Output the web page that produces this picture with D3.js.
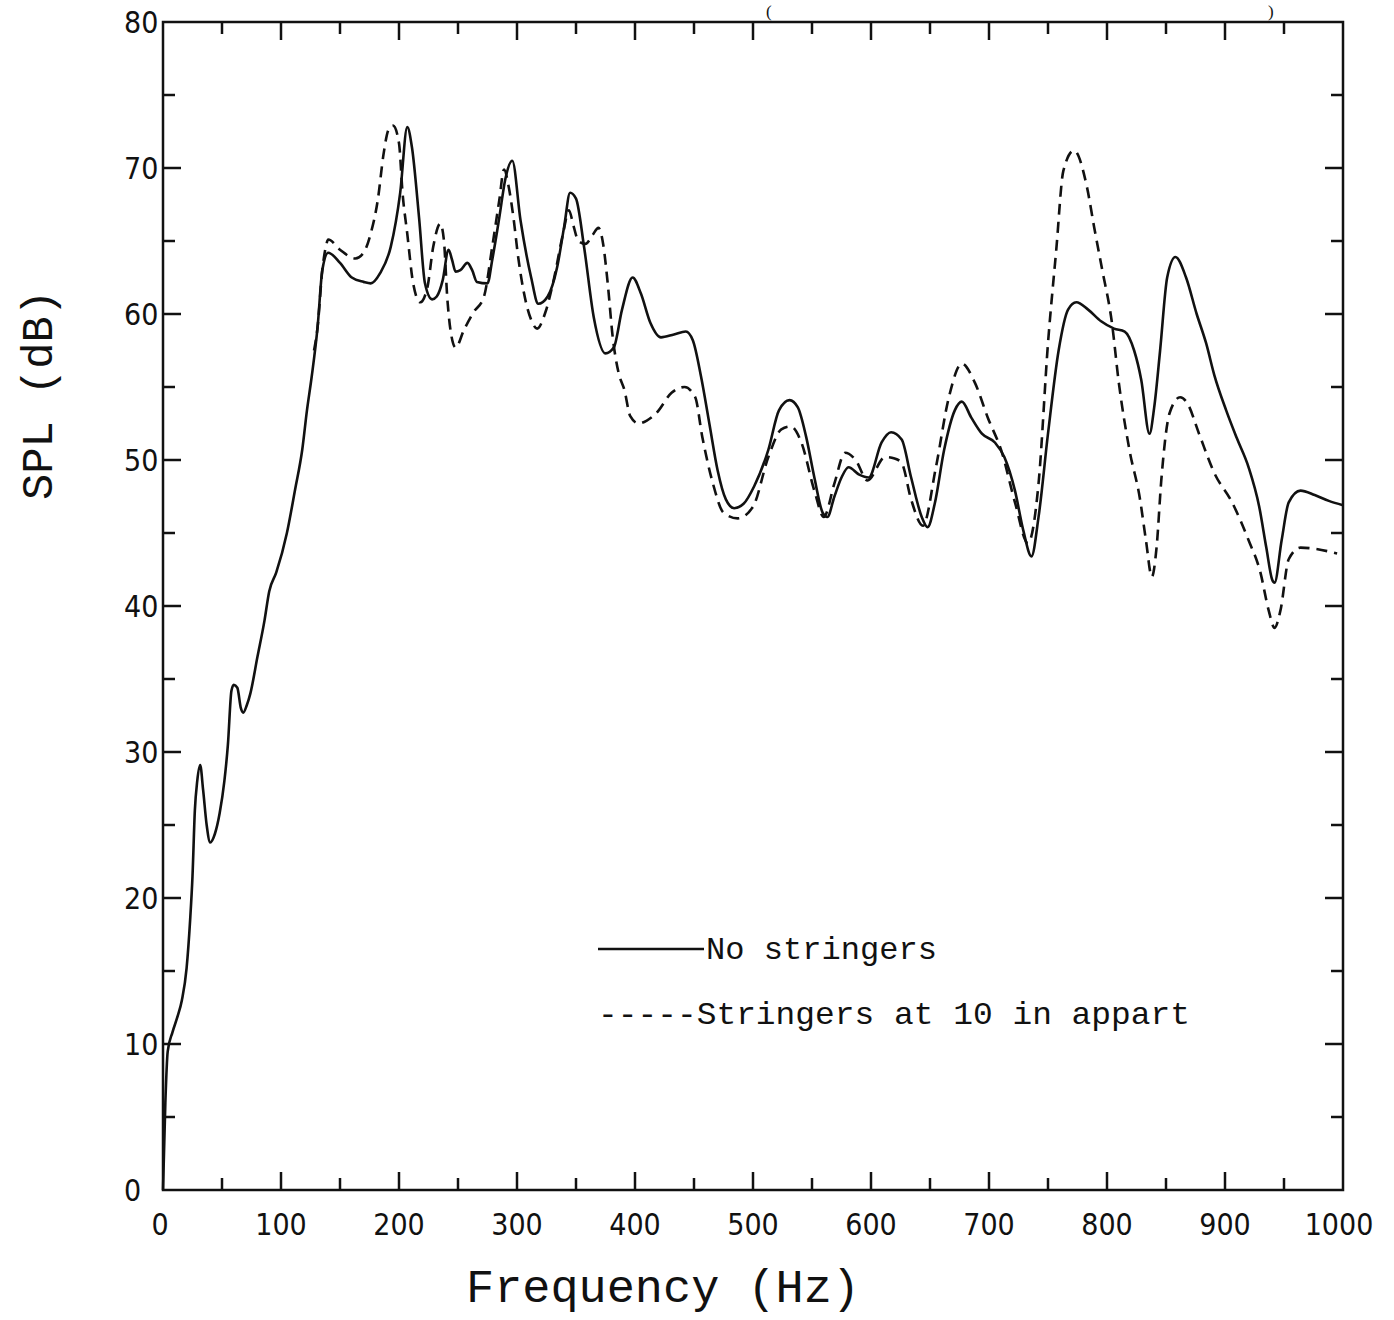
<!DOCTYPE html>
<html>
<head>
<meta charset="utf-8">
<script src="https://cdn.jsdelivr.net/npm/d3@7"></script>
<style>
  body { margin: 0; background: #fff; }
  svg { display: block; }
  .tick-label { font-family: "Liberation Sans Narrow", "DejaVu Sans Condensed", sans-serif; font-size: 30px; fill: #111; }
  .axis-title, .legend-text { font-family: "Liberation Mono", "DejaVu Sans Mono", monospace; fill: #111; }
  .title-frag { font-family: "Liberation Serif", serif; fill: #111; }
</style>
</head>
<body>
<svg width="1394" height="1320"></svg>
<script>
// No stringers (solid) : frequency in Hz, SPL in dB
const noStringersFreq = [0, 2, 4, 8, 12, 16, 20, 23, 25, 27, 29, 31.5, 34, 37, 40, 44, 48, 52, 55, 58, 60, 63, 66, 68, 71, 74, 80, 86, 90, 96,
  105, 112, 118, 122, 126, 131, 135, 140, 150, 160, 170, 176, 184, 193, 201, 207, 211, 217, 222, 228, 232, 237, 242, 245, 248, 252, 258, 262, 266, 275,
  279, 285, 290, 296, 303, 312, 318, 326, 334, 340, 345, 350, 357, 365, 375, 382, 389, 398, 405, 413, 422, 433, 443, 449, 456, 463, 470, 477, 484, 492,
  501, 513, 522, 531, 538, 545, 552, 559, 563, 569, 575, 581, 590, 598, 609, 617, 626, 634, 643, 648, 654, 662, 671, 677, 685, 694, 705, 713, 722, 729,
  736, 742, 750, 759, 767, 774, 784, 795, 806, 815, 823, 829, 836, 840, 845, 851, 858, 867, 876, 884, 891, 901, 910, 920, 929, 935, 940, 942, 948, 954,
  964, 976, 988, 1000];
const noStringersSpl = [0, 6, 9.5, 10.8, 11.8, 13, 15.2, 18.5, 21.5, 26, 28, 29.1, 27.4, 25, 23.8, 24.4, 25.8, 28, 30.5, 34.2, 34.6, 34.4, 33, 32.7, 33.2, 34, 36.5, 39, 41, 42.3,
  45, 48, 50.7, 53.4, 55.7, 59.1, 63, 64.2, 63.5, 62.5, 62.2, 62.1, 62.8, 64.6, 68.3, 72.8, 71.4, 66.6, 62.1, 61, 61.2, 62.3, 64.4, 63.7, 62.9, 63, 63.5, 63, 62.2, 62.1,
  63.7, 66.6, 69.2, 70.5, 66.4, 62.5, 60.7, 61.2, 63.2, 66, 68.3, 67.9, 64.5, 59.8, 57.3, 57.7, 60.3, 62.5, 61.4, 59.4, 58.4, 58.6, 58.8, 58.2, 55.7, 52.5, 49.3, 47.3, 46.7, 47,
  48.2, 50.7, 53.4, 54.1, 53.6, 51.6, 48.8, 46.4, 46.1, 47.5, 48.8, 49.5, 49, 48.8, 51.2, 51.9, 51.4, 48.8, 46.1, 45.4, 47, 50.7, 53.4, 54, 52.9, 51.8, 51.2, 50.2, 47.9, 45.2,
  43.4, 46.1, 51.8, 57.5, 60.3, 60.8, 60.3, 59.5, 59, 58.8, 57.5, 55.5, 51.8, 53.6, 57.5, 62.5, 63.9, 62.5, 60, 58, 55.8, 53.4, 51.5, 49.5, 46.8, 44, 41.8, 41.6, 44.5, 47.1,
  47.9, 47.6, 47.2, 46.9];

// Stringers at 10 in apart (dashed)
const stringersFreq = [128, 131, 135, 138, 140, 150, 163, 170, 176, 182, 187, 191, 195, 200, 203, 207, 212, 218, 224, 229, 235, 238, 241, 244, 248, 255, 263, 272,
  279, 285, 289, 293, 297, 301, 306, 312, 317, 324, 331, 339, 344, 348, 352, 358, 364, 369, 373, 377, 381, 386, 391, 396, 403, 410, 418, 431, 442, 451, 457, 466, 475,
  487, 500, 513, 524, 532, 541, 552, 560, 569, 578, 587, 597, 612, 620, 626, 634, 644, 655, 666, 677, 688, 699, 711, 722, 733, 742, 750, 757, 763, 772,
  783, 789, 796, 804, 810, 819, 828, 833, 838, 842, 846, 853, 862, 868, 878, 891, 906, 920, 930, 937, 942, 947, 954, 964, 995];
const stringersSpl = [57.5, 59.1, 63, 64.6, 65.1, 64.4, 63.8, 64.2, 65.5, 67.8, 71, 72.6, 72.9, 71.7, 68.3, 65.5, 62.1, 60.8, 61.8, 64.6, 66.2, 65.1, 61, 58.7, 57.7, 58.9, 60.1, 61.2,
  64.6, 67.8, 69.9, 68.7, 66.6, 63.9, 61.4, 59.6, 59, 60.1, 62.3, 65.5, 67.1, 66, 65, 64.8, 65.4, 65.9, 64.8, 62, 58.5, 56, 54.8, 53, 52.5, 52.7, 53.2, 54.6, 55, 54.3, 51.6, 48.4, 46.4,
  46, 46.8, 50.2, 52.1, 52.3, 51.2, 47.9, 46.1, 48.4, 50.5, 50, 48.6, 50.2, 50.1, 49.8, 47.3, 45.5, 49.5, 54.3, 56.6, 55.3, 52.9, 50.5, 47.1, 44.3, 48.4, 58, 64.4, 69.8, 71.2,
  68.7, 66, 63, 59.5, 55.3, 50.7, 47.3, 44.5, 42, 44, 48.6, 53.2, 54.3, 53.9, 51.8, 49.1, 47.1, 44.5, 42.3, 39.7, 38.5, 39.7, 43.2, 44, 43.6];

const xTickValues = [0, 100, 200, 300, 400, 500, 600, 700, 800, 900, 1000];
const yTickValues = [0, 10, 20, 30, 40, 50, 60, 70, 80];
const legendLabels = ['No stringers', '-----Stringers at 10 in appart'];

const toPoints = (freq, spl) => freq.map((f, i) => [f, spl[i]]);
const noStringers = toPoints(noStringersFreq, noStringersSpl);
const stringers = toPoints(stringersFreq, stringersSpl);

// plot box
const box = { left: 163, right: 1343, top: 22, bottom: 1190 };

const x = d3.scaleLinear().domain([0, 1000]).range([box.left, box.right]);
const y = d3.scaleLinear().domain([0, 80]).range([box.bottom, box.top]);

const svg = d3.select('svg');
const ink = '#111';

// frame
svg.append('rect')
  .attr('x', box.left)
  .attr('y', box.top)
  .attr('width', box.right - box.left)
  .attr('height', box.bottom - box.top)
  .attr('fill', 'none')
  .attr('stroke', ink)
  .attr('stroke-width', 2.5);

// inward ticks on all four sides, major every 100 Hz / 10 dB, minor halfway
const xMinor = d3.range(0, 1001, 50);
const yMinor = d3.range(0, 81, 5);
const tickLen = v => (v % 100 === 0 ? 18 : 12);
const yTickLen = v => (v % 10 === 0 ? 18 : 12);

const ticks = svg.append('g').attr('stroke', ink).attr('stroke-width', 2.5);

ticks.selectAll('.xb').data(xMinor.slice(1, -1))
  .enter().append('line')
  .attr('x1', d => x(d)).attr('x2', d => x(d))
  .attr('y1', box.bottom).attr('y2', d => box.bottom - tickLen(d));

ticks.selectAll('.xt').data(xMinor.slice(1, -1))
  .enter().append('line')
  .attr('x1', d => x(d)).attr('x2', d => x(d))
  .attr('y1', box.top).attr('y2', d => box.top + tickLen(d));

ticks.selectAll('.yl').data(yMinor.slice(1, -1))
  .enter().append('line')
  .attr('x1', box.left).attr('x2', d => box.left + yTickLen(d))
  .attr('y1', d => y(d)).attr('y2', d => y(d));

ticks.selectAll('.yr').data(yMinor.slice(1, -1))
  .enter().append('line')
  .attr('x1', box.right).attr('x2', d => box.right - yTickLen(d))
  .attr('y1', d => y(d)).attr('y2', d => y(d));

// tick labels
svg.append('g').selectAll('text').data(xTickValues)
  .enter().append('text')
  .attr('class', 'tick-label')
  .attr('x', d => x(d) - (d === 0 ? 3 : 0) - (d === 1000 ? 4 : 0))
  .attr('y', box.bottom + 45)
  .attr('text-anchor', 'middle')
  .text(d => d);

svg.append('g').selectAll('text').data(yTickValues)
  .enter().append('text')
  .attr('class', 'tick-label')
  .attr('x', 124)
  .attr('y', d => y(d) + 11)
  .attr('text-anchor', 'start')
  .text(d => d);

// axis titles
svg.append('text')
  .attr('class', 'axis-title')
  .attr('x', 466)
  .attr('y', 1302)
  .attr('font-size', 46)
  .attr('textLength', 394)
  .attr('lengthAdjust', 'spacingAndGlyphs')
  .text('Frequency (Hz)');

svg.append('text')
  .attr('class', 'axis-title')
  .attr('transform', 'translate(52, 500) rotate(-90)')
  .attr('font-size', 44)
  .attr('textLength', 210)
  .attr('lengthAdjust', 'spacingAndGlyphs')
  .text('SPL (dB)');

// remains of the title, cut off at the top of the scan
svg.append('text').attr('class', 'title-frag').attr('x', 766).attr('y', 17).attr('font-size', 17).text('(');
svg.append('text').attr('class', 'title-frag').attr('x', 1268).attr('y', 17).attr('font-size', 17).text(')');

// curves
const line = d3.line()
  .x(d => x(d[0]))
  .y(d => y(d[1]))
  .curve(d3.curveMonotoneX);

svg.append('path')
  .datum(stringers)
  .attr('d', line)
  .attr('fill', 'none')
  .attr('stroke', ink)
  .attr('stroke-width', 2.6)
  .attr('stroke-dasharray', '11,7');

svg.append('path')
  .datum(noStringers)
  .attr('d', line)
  .attr('fill', 'none')
  .attr('stroke', ink)
  .attr('stroke-width', 2.6)
  .attr('stroke-linejoin', 'round');

// legend
svg.append('line')
  .attr('x1', 598).attr('x2', 704)
  .attr('y1', 949).attr('y2', 949)
  .attr('stroke', ink)
  .attr('stroke-width', 2.5);

svg.append('text')
  .attr('class', 'legend-text')
  .attr('x', 706)
  .attr('y', 959)
  .attr('font-size', 32)
  .attr('textLength', 231)
  .attr('lengthAdjust', 'spacingAndGlyphs')
  .text(legendLabels[0]);

svg.append('text')
  .attr('class', 'legend-text')
  .attr('x', 598)
  .attr('y', 1024)
  .attr('font-size', 32)
  .attr('textLength', 592)
  .attr('lengthAdjust', 'spacingAndGlyphs')
  .text(legendLabels[1]);
</script>
</body>
</html>
